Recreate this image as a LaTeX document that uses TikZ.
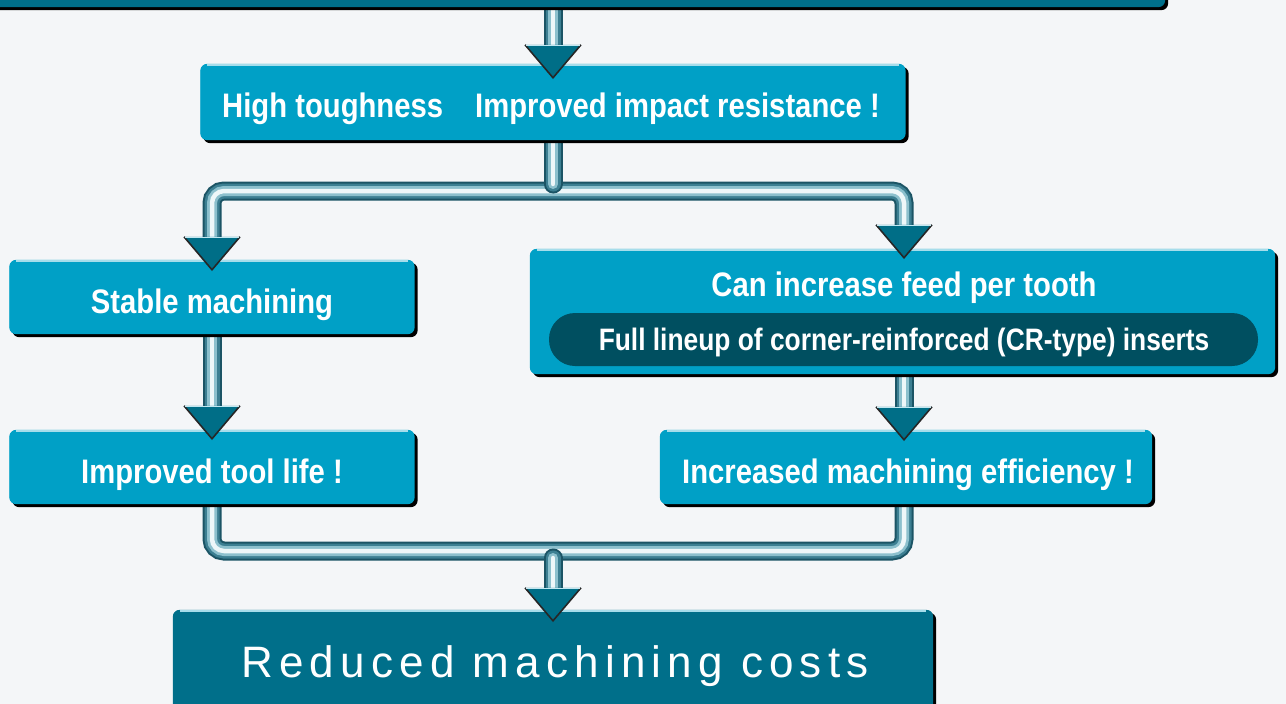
\documentclass[tikz,border=0pt]{standalone}
\usepackage{fontspec}
\setmainfont{Liberation Sans}[FakeStretch=0.86]
\newfontfamily\pillfont{Liberation Sans}[FakeStretch=0.85]
\newfontfamily\costfont{Liberation Sans}[LetterSpace=14]
\usetikzlibrary{calc}
\definecolor{bg}{HTML}{F4F6F8}
\definecolor{boxc}{HTML}{00A0C6}
\definecolor{darkbox}{HTML}{006F8A}
\definecolor{pillc}{HTML}{004F60}
\definecolor{hil}{HTML}{A6DDEB}
\definecolor{pipeA}{HTML}{1B5465}
\definecolor{pipeB}{HTML}{3C7F92}
\definecolor{pipeC}{HTML}{8CC0CD}
\definecolor{pipeD}{HTML}{EEF7F9}
\definecolor{trifill}{HTML}{006E87}
\tikzset{
  box/.style={fill=boxc, rounded corners=7pt, inner sep=0pt},
  darkcard/.style={box, fill=darkbox},
  pill/.style={fill=pillc, rounded corners=26pt, inner sep=0pt},
  label/.style={inner sep=0pt, text=white, anchor=base, font=\bfseries\fontsize{34}{38}\selectfont}
}
\newcommand\shadowbox[1]{%
  \fill[black, rounded corners=7pt] ($(#1.south west)+(3,3)$) rectangle ($(#1.north east)+(3,3)$);}
\newcommand\hilite[1]{%
  \draw[hil, line width=2.2pt] ($(#1.north west)+(7,1.5)$) -- ($(#1.north east)+(-7,1.5)$);}
\newcommand\pipe[2][]{%
  \draw[pipeA, line width=19pt, rounded corners=12pt, #1] #2;
  \draw[pipeB, line width=15pt, rounded corners=12pt, #1] #2;
  \draw[pipeC, line width=10pt, rounded corners=12pt, #1] #2;
  \draw[pipeD, line width=4.5pt, rounded corners=12pt, #1] #2;}
\newcommand\tri[1]{%
  \fill[trifill] ($#1+(-28,-33)$) -- ($#1+(28,-33)$) -- #1 -- cycle;
  \draw[black!85, line width=1.6pt, line join=miter] ($#1+(28,-33)$) -- #1 -- ($#1+(-28,-33)$);
  \draw[hil!70!white, line width=1.6pt] ($#1+(-27,-32.5)$) -- ($#1+(27,-32.5)$);}
\begin{document}
\begin{tikzpicture}[x=1pt, y=-1pt]
\clip (0,0) rectangle (1286,704);
\fill[bg] (0,0) rectangle (1286,704);
% nodes
\node[darkcard, minimum width=1175pt, minimum height=70pt] (top) at (577.5,-28) {};
\node[box, minimum width=705pt, minimum height=76pt] (tough) at (553,102) {};
\node[box, minimum width=405pt, minimum height=74pt] (stable) at (212,297) {};
\node[box, minimum width=745pt, minimum height=125pt] (feed) at (902.5,311.5) {};
\node[box, minimum width=405pt, minimum height=74pt] (life) at (212,467) {};
\node[box, minimum width=492pt, minimum height=74pt] (eff) at (906,467) {};
\node[darkcard, minimum width=760pt, minimum height=110pt] (cost) at (553,665) {};
% coordinates for pipes
\coordinate (split) at (553,191);
\coordinate (join) at (553,551);
\coordinate (rx) at (904,0);
% pipes
\pipe{(top.south -| tough) -- ($(tough.north)+(0,-12)$)}
\pipe{($(stable.north)+(0,-20)$) |- (split) -| ($(rx |- feed.north)+(0,-20)$)}
\pipe[line cap=round]{(tough.south) -- ($(split)+(0,-7)$)}
\pipe{(stable.south) -- ($(life.north)+(0,-20)$)}
\pipe{(rx |- feed.south) -- ($(rx |- eff.north)+(0,-20)$)}
\pipe{(life.south) |- (join) -| (rx |- eff.south)}
\pipe[line cap=round]{($(join)+(0,7)$) -- ($(cost.north)+(0,-20)$)}
% boxes with shadows and highlights
\foreach \n in {top,tough,stable,feed,life,eff,cost}{\shadowbox{\n}}
\fill[darkbox, rounded corners=7pt] (top.south west) rectangle (top.north east);
\foreach \n in {tough,stable,feed,life,eff}{\fill[boxc, rounded corners=7pt] (\n.south west) rectangle (\n.north east); \hilite{\n}}
\fill[darkbox, rounded corners=7pt] (cost.south west) rectangle (cost.north east);
\hilite{cost}
\node[pill, minimum width=709pt, minimum height=53pt] (pillN) at (903.5,339.5) {};
% texts
\node[label] (toughT) at (551,117) {High toughness\hspace{32pt}Improved impact resistance !};
\node[label] (stableT) at (212,313) {Stable machining};
\node[label] (feedT) at (904,296) {Can increase feed per tooth};
\node[label, font=\pillfont\bfseries\fontsize{31}{34}\selectfont] (pillT) at (904,350) {Full lineup of corner-reinforced (CR-type) inserts};
\node[label] (lifeT) at (212,483) {Improved tool life !};
\node[label] (effT) at (908,483) {Increased machining efficiency !};
\node[label, font=\costfont\fontsize{44}{48}\selectfont] (costT) at (555,677) {Reduced machining costs};
% arrowheads
\tri{($(tough.north)+(0,14)$)}
\tri{($(stable.north)+(0,10)$)}
\tri{($(rx |- feed.north)+(0,9)$)}
\tri{($(life.north)+(0,9)$)}
\tri{($(rx |- eff.north)+(0,10)$)}
\tri{($(cost.north)+(0,11)$)}
\end{tikzpicture}
\end{document}
